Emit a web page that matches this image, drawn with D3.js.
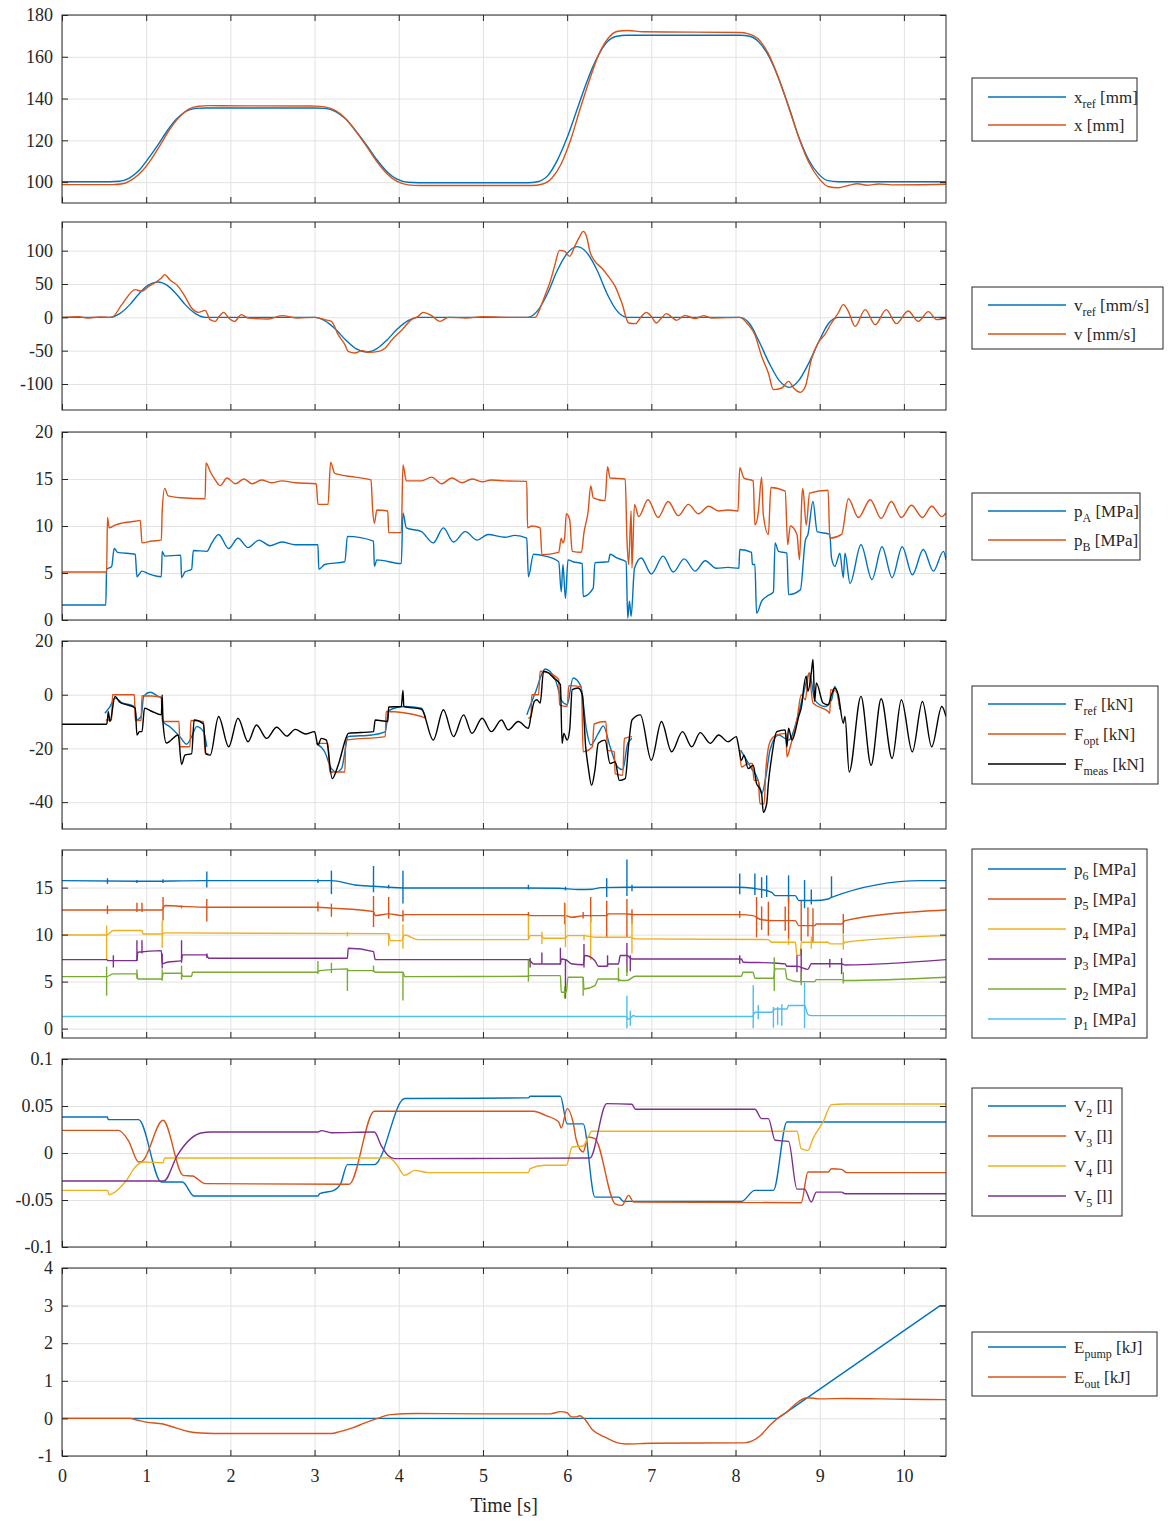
<!DOCTYPE html>
<html>
<head>
<meta charset="utf-8">
<script src="https://cdn.jsdelivr.net/npm/d3@7"></script>
<style>
body { margin: 0; background: #fff; }
text { font-family: "Liberation Serif", "Times New Roman", serif; fill: #262626; }
</style>
</head>
<body>
<div id="chart"></div>
<script>
// ---- data: [time s, value] pairs ----
var xTicks = [0, 1, 2, 3, 4, 5, 6, 7, 8, 9, 10];

var xRef = [[0,100.2],[0.57,100.2],[0.68,100.4],[0.80,101.9],[0.91,105.4],[1.02,111.0],[1.14,117.8],[1.25,124.6],[1.36,130.2],[1.47,133.8],[1.59,135.3],[1.70,135.5],[3.0,135.5],[3.12,135.3],[3.25,133.8],[3.37,130.2],[3.49,124.5],[3.62,117.6],[3.74,110.7],[3.86,105.0],[3.98,101.4],[4.11,99.9],[4.23,99.7],[5.53,99.7],[5.65,100.2],[5.77,103.1],[5.88,110.2],[6.0,121.3],[6.12,135.0],[6.24,148.7],[6.36,159.8],[6.47,166.9],[6.59,169.8],[6.71,170.3],[8.05,170.3],[8.17,169.8],[8.28,166.9],[8.40,159.9],[8.52,148.8],[8.64,135.2],[8.75,121.7],[8.87,110.6],[8.99,103.7],[9.10,100.7],[9.22,100.2],[10.5,100.2]];
var xMeas = [[0,98.8],[0.6,98.8],[0.72,99.2],[0.84,101.4],[0.95,105.2],[1.06,110.9],[1.17,117.9],[1.28,125.2],[1.39,131.0],[1.50,134.8],[1.62,136.3],[1.75,136.6],[2.2,136.5],[3.0,136.4],[3.12,136.0],[3.25,134.2],[3.37,130.3],[3.49,124.3],[3.62,117.0],[3.74,109.8],[3.86,104.0],[3.98,100.3],[4.11,98.7],[4.25,98.4],[5.58,98.4],[5.70,99.0],[5.82,102.0],[5.93,108.8],[6.04,120.0],[6.15,134.5],[6.27,149.5],[6.38,161.5],[6.49,169.0],[6.60,172.2],[6.72,172.6],[6.9,172.0],[7.5,171.8],[8.05,171.6],[8.15,171.0],[8.27,168.5],[8.39,161.5],[8.51,150.0],[8.63,136.0],[8.75,121.5],[8.87,109.5],[8.99,101.8],[9.10,97.9],[9.22,97.3],[9.34,98.4],[9.45,99.2],[9.56,98.5],[9.70,99.1],[9.85,98.7],[10.5,99.0]];

var vRef = [[0,0],[0.57,0],[0.68,5.1],[0.80,18.3],[0.91,34.7],[1.02,47.9],[1.14,53],[1.25,47.9],[1.36,34.7],[1.47,18.3],[1.59,5.1],[1.70,0],[3.0,0],[3.12,-5],[3.25,-18],[3.37,-34],[3.49,-47],[3.62,-52],[3.74,-47],[3.86,-34],[3.98,-18],[4.11,-5],[4.23,0],[5.53,0],[5.65,10.1],[5.77,36.6],[5.88,69.4],[6.0,95.9],[6.12,106],[6.24,95.9],[6.36,69.4],[6.47,36.6],[6.59,10.1],[6.71,0],[8.05,0],[8.17,-10],[8.28,-36.3],[8.40,-68.7],[8.52,-95],[8.64,-105],[8.75,-95],[8.87,-68.7],[8.99,-36.3],[9.10,-10],[9.22,0],[10.5,0]];
var vMeas = [[0,0],[0.2,1],[0.3,-1],[0.45,0.5],[0.59,0],[0.71,19],[0.87,41.5],[0.95,39],[1.03,46.5],[1.10,51.5],[1.18,59],[1.22,64],[1.28,56.5],[1.38,46.5],[1.46,31.5],[1.54,14],[1.62,7.5],[1.70,10.5],[1.76,-3.5],[1.82,-6],[1.86,0],[1.92,7.5],[1.98,-1],[2.05,-6],[2.13,4],[2.21,-1],[2.45,-2.5],[2.61,2.5],[2.8,-1],[3.0,0],[3.12,-3.5],[3.20,-6],[3.28,-26],[3.36,-41],[3.40,-51],[3.48,-53.5],[3.56,-50],[3.64,-52.5],[3.76,-51],[3.84,-46],[3.92,-33.5],[4.04,-18.5],[4.15,-3.5],[4.23,1.5],[4.29,7.5],[4.39,2.5],[4.49,-6],[4.59,0],[4.8,-1],[5.0,1],[5.3,0],[5.62,0],[5.68,14],[5.74,34],[5.80,54],[5.85,76.5],[5.91,100.5],[5.97,99],[6.03,91.5],[6.09,106.5],[6.15,121.5],[6.19,129],[6.23,121.5],[6.27,99],[6.33,84],[6.41,74],[6.49,61.5],[6.57,46.5],[6.65,21.5],[6.73,-8.5],[6.81,-9.5],[6.88,1],[6.94,7.5],[7.0,1.5],[7.06,-8.5],[7.12,-1],[7.18,5.5],[7.24,0.5],[7.30,-4.5],[7.40,3],[7.52,-2],[7.62,2.5],[7.72,-1],[8.05,0],[8.15,-11],[8.23,-26],[8.31,-58.5],[8.39,-83.5],[8.45,-108.5],[8.55,-106],[8.63,-96],[8.69,-106],[8.77,-112.5],[8.83,-103.5],[8.90,-63.5],[8.98,-38.5],[9.06,-26],[9.14,-8.5],[9.22,6.5],[9.28,19],[9.34,9],[9.42,-13.5],[9.54,11.5],[9.66,-11],[9.79,11.5],[9.91,-9.5],[10.05,9.5],[10.17,-6],[10.29,8.5],[10.39,-3.5],[10.5,-1]];

var pA = [[0,1.6],[0.52,1.6],[0.53,5.4],[0.59,5.7],[0.62,7.6],[0.66,7.2],[0.87,7.0],[0.89,4.6],[0.95,5.2],[1.03,4.9],[1.18,4.6],[1.19,7.3],[1.22,6.8],[1.41,6.9],[1.42,4.5],[1.46,5.1],[1.54,5.4],[1.56,7.4],[1.72,7.3],[1.78,8.2],[1.86,9.1],[1.98,7.6],[2.09,8.7],[2.21,7.7],[2.34,8.5],[2.47,7.9],[2.61,8.3],[2.77,8.0],[3.04,8.0],[3.05,5.4],[3.12,5.9],[3.36,6.2],[3.39,8.9],[3.70,8.4],[3.71,5.7],[3.74,6.4],[4.03,6.0],[4.05,11.4],[4.09,9.8],[4.27,9.4],[4.41,8.2],[4.53,9.8],[4.65,8.3],[4.79,9.4],[4.93,8.5],[5.06,9.1],[5.26,8.8],[5.38,9.0],[5.52,8.7],[5.54,4.6],[5.60,7.0],[5.74,6.8],[5.90,6.2],[5.93,3.0],[5.95,5.9],[5.98,2.3],[6.01,6.4],[6.07,6.2],[6.18,6.0],[6.19,2.5],[6.31,3.4],[6.33,6.1],[6.49,6.2],[6.51,7.0],[6.59,6.6],[6.70,6.2],[6.72,0.2],[6.74,2.0],[6.76,0.4],[6.80,5.5],[6.88,6.6],[7.0,4.9],[7.14,6.8],[7.26,5.1],[7.39,6.5],[7.52,5.2],[7.64,6.3],[7.77,5.5],[7.91,5.6],[8.04,5.5],[8.05,7.5],[8.19,7.2],[8.20,5.9],[8.23,5.9],[8.25,0.7],[8.31,2.0],[8.37,2.5],[8.45,3.0],[8.47,8.2],[8.51,7.3],[8.61,7.1],[8.63,2.7],[8.77,3.2],[8.83,8.5],[8.86,9.1],[8.92,12.6],[8.97,9.4],[9.12,9.1],[9.14,6.6],[9.18,5.7],[9.24,7.1],[9.28,4.5],[9.30,7.1],[9.36,3.9],[9.49,8.0],[9.62,4.3],[9.74,7.8],[9.86,4.5],[9.98,7.8],[10.10,4.8],[10.23,7.5],[10.35,5.2],[10.47,7.3],[10.5,6.4]];
var pB = [[0,5.1],[0.53,5.1],[0.54,10.9],[0.56,9.8],[0.63,10.1],[0.71,10.3],[0.87,10.5],[0.93,10.6],[0.95,8.2],[1.07,8.4],[1.18,8.5],[1.19,11.6],[1.22,14.0],[1.26,13.2],[1.42,13.0],[1.70,12.9],[1.71,16.7],[1.76,15.8],[1.82,14.9],[1.88,14.3],[1.96,15.1],[2.06,14.5],[2.16,15.0],[2.26,14.5],[2.37,14.9],[2.49,14.6],[2.61,14.8],[2.77,14.6],[3.02,14.5],[3.04,12.3],[3.16,12.3],[3.19,16.8],[3.24,15.6],[3.48,15.2],[3.67,14.9],[3.69,11.7],[3.71,10.3],[3.74,11.7],[3.87,11.6],[3.88,9.3],[4.03,9.3],[4.05,16.5],[4.09,14.8],[4.27,14.8],[4.39,15.2],[4.51,14.5],[4.63,15.1],[4.75,14.6],[4.87,15.0],[4.99,14.7],[5.10,14.9],[5.26,14.8],[5.52,14.75],[5.53,9.8],[5.58,10.0],[5.68,9.8],[5.70,6.95],[5.90,7.2],[5.93,8.7],[5.95,8.2],[5.97,8.7],[5.99,11.3],[6.03,10.7],[6.06,7.3],[6.17,7.2],[6.20,9.3],[6.25,11.6],[6.28,14.3],[6.31,13.0],[6.45,12.7],[6.48,16.3],[6.51,15.1],[6.69,15.0],[6.71,8.7],[6.73,5.9],[6.76,11.6],[6.77,5.5],[6.80,12.3],[6.85,11.0],[6.96,12.8],[7.08,10.9],[7.20,12.6],[7.32,11.1],[7.44,12.3],[7.56,11.3],[7.68,12.1],[7.80,11.6],[7.91,11.7],[8.03,11.6],[8.05,16.2],[8.10,15.1],[8.21,14.8],[8.23,10.1],[8.27,11.4],[8.31,15.2],[8.33,11.2],[8.39,9.1],[8.42,14.1],[8.59,13.7],[8.62,8.0],[8.65,10.0],[8.73,9.1],[8.76,6.4],[8.79,13.3],[8.80,14.0],[8.84,10.1],[8.88,13.5],[9.10,13.8],[9.12,8.7],[9.26,9.1],[9.34,12.9],[9.46,10.9],[9.60,12.8],[9.73,10.8],[9.85,12.6],[9.97,10.9],[10.09,12.2],[10.22,10.9],[10.33,12.1],[10.45,11.0],[10.5,11.4]];

var fRef = [[0.51,-6.9],[0.57,-4.4],[0.63,-1.25],[0.71,-2.9],[0.86,-4.4],[0.89,-9.4],[0.94,-8.1],[0.97,-0.6],[1.05,0.9],[1.13,-0.4],[1.18,-1.25],[1.20,-10],[1.28,-11.9],[1.40,-15.6],[1.48,-18.4],[1.54,-15.6],[1.60,-11.9],[1.68,-13.75],[1.72,-19.4],[1.73,null],[3.02,-18.1],[3.12,-21.25],[3.20,-27.5],[3.26,-28.75],[3.32,-27.5],[3.40,-15.6],[3.68,-15],[3.84,-13.75],[3.88,-5.9],[4.07,-4.4],[4.27,-5],[4.32,-8.75],[4.33,null],[5.52,-7.5],[5.62,0.6],[5.74,9.6],[5.86,5.6],[5.94,-2.5],[6.0,-3.75],[6.07,6.25],[6.16,3.4],[6.23,-13.1],[6.28,-18.75],[6.37,-14.4],[6.43,-11.6],[6.51,-19.4],[6.60,-26.9],[6.66,-27.9],[6.72,-18.1],[6.77,-16.25],[6.78,null],[8.06,-20.6],[8.19,-27.5],[8.27,-31.9],[8.31,-36.9],[8.36,-30.6],[8.41,-20.6],[8.51,-15],[8.63,-16.9],[8.75,-6.9],[8.80,-0.6],[8.88,8.1],[8.94,-1.9],[9.06,-4.4],[9.14,-1.9],[9.18,3.1],[9.24,-5.6]];
var fOpt = [[0.52,-9.4],[0.59,-9.4],[0.60,0],[0.86,0],[0.87,-9.6],[0.94,-9.6],[0.95,-0.4],[1.18,-0.9],[1.19,-10],[1.39,-10],[1.40,-19.4],[1.52,-19.4],[1.53,-9.6],[1.68,-10],[1.70,-21.9],[1.74,-22],[1.75,null],[3.02,-18.1],[3.16,-18.1],[3.18,-28.75],[3.36,-28.75],[3.37,-16.9],[3.84,-15.6],[3.85,-6.25],[4.27,-8.1],[4.31,-8.75],[4.32,null],[5.54,-8.75],[5.57,-8.1],[5.58,0],[5.66,0],[5.68,8.75],[5.78,8.1],[5.90,5.6],[5.91,-3.75],[6.0,-4.4],[6.02,3.4],[6.17,2.9],[6.19,-21.25],[6.30,-19.4],[6.32,-10.9],[6.46,-10],[6.48,-20.6],[6.56,-21.25],[6.57,-29.4],[6.66,-30],[6.68,-16.25],[6.77,-15.6],[6.78,null],[8.05,-20.6],[8.07,-26.9],[8.15,-25.6],[8.20,-25.6],[8.22,-31.9],[8.27,-31.9],[8.29,-40.6],[8.34,-40.6],[8.36,-28.1],[8.41,-17.5],[8.49,-15],[8.60,-14.4],[8.61,-23.1],[8.65,-19.4],[8.73,-9.4],[8.78,0],[8.83,-1.9],[8.87,8.1],[8.92,-3.1],[9.10,-6.25],[9.12,-6.9],[9.13,1.9],[9.20,1.2],[9.24,-5]];
var fMeas = [[0,-11],[0.53,-11],[0.54,-9.4],[0.55,-6.3],[0.57,-10],[0.63,-0.6],[0.69,-2.9],[0.77,-3.75],[0.87,-5],[0.89,-15],[0.92,-13.75],[0.95,-13.75],[0.98,-5],[1.07,-6.25],[1.18,-7.5],[1.19,0],[1.20,-10.6],[1.24,-18],[1.38,-15],[1.42,-26],[1.46,-22.5],[1.54,-21.9],[1.57,-9.4],[1.68,-10.9],[1.71,-22],[1.76,-22.5],[1.86,-8.1],[1.98,-19.4],[2.09,-8.75],[2.21,-17.5],[2.31,-11.25],[2.43,-16.25],[2.55,-12.1],[2.67,-15.4],[2.77,-12.9],[2.89,-14.6],[3.0,-13.75],[3.04,-18.75],[3.08,-16.25],[3.14,-16.9],[3.21,-31.25],[3.28,-26.25],[3.38,-15.6],[3.40,-14.4],[3.70,-13.75],[3.72,-9.4],[3.87,-10],[3.88,-4.6],[4.03,-4.4],[4.05,1.6],[4.06,-4.4],[4.27,-5.4],[4.41,-16.9],[4.53,-5.6],[4.65,-15.6],[4.77,-7.5],[4.87,-14.4],[4.99,-8.75],[5.10,-13.75],[5.22,-9.4],[5.30,-13.1],[5.42,-10],[5.54,-12.5],[5.57,-8.1],[5.61,-2.5],[5.64,-1.9],[5.68,-3.1],[5.72,8.75],[5.78,8.1],[5.84,6.25],[5.92,3.75],[5.94,-18.1],[5.96,-14.4],[6.0,-16.9],[6.03,-13.1],[6.06,1.9],[6.13,2.5],[6.18,0],[6.22,-19.4],[6.25,-26.9],[6.29,-33.75],[6.33,-28.1],[6.37,-18.1],[6.45,-16.9],[6.51,-25.6],[6.57,-25],[6.62,-31.9],[6.69,-31.25],[6.73,-18.75],[6.77,-9.4],[6.87,-7.5],[7.0,-24.4],[7.12,-10],[7.24,-21.25],[7.37,-13.75],[7.48,-19.4],[7.58,-14.1],[7.70,-18.1],[7.80,-15],[7.91,-17.5],[8.01,-15.6],[8.03,-18.1],[8.07,-24.4],[8.10,-22.5],[8.15,-27.5],[8.21,-26.25],[8.25,-33.1],[8.29,-35],[8.31,-36.9],[8.33,-43.75],[8.37,-40.6],[8.39,-33.1],[8.43,-23.1],[8.49,-13.75],[8.59,-13.1],[8.61,-19.4],[8.63,-12.5],[8.67,-16.9],[8.75,-8.1],[8.79,-3.1],[8.80,0],[8.84,6.9],[8.86,1.25],[8.90,8.1],[8.92,13.1],[8.94,-2.5],[8.96,4.4],[9.04,-3.1],[9.10,-3.75],[9.14,0],[9.18,2.5],[9.22,0],[9.28,-10.6],[9.30,-8.1],[9.35,-28.75],[9.49,-0.6],[9.61,-26.25],[9.73,-1.5],[9.86,-23.75],[9.97,-1.9],[10.10,-21.25],[10.22,-2.5],[10.33,-19.4],[10.45,-4.4],[10.5,-8.1]];

var p6 = [[0,15.74],[0.9,15.67],[1.7,15.74],[3.2,15.74],[3.48,15.28],[3.70,15.14],[3.88,15.04],[4.05,14.96],[5.26,14.96],[5.90,14.93],[6.13,14.79],[6.3,14.82],[6.4,15.0],[6.7,15.04],[8.03,15.04],[8.21,14.93],[8.43,14.5],[8.47,14.15],[8.71,14.15],[8.75,13.62],[8.94,13.62],[9.10,13.79],[9.14,13.97],[10.21,15.74],[10.5,15.74]];
var p5 = [[0,12.62],[1.19,12.62],[1.22,13.09],[1.43,13.0],[1.74,12.91],[3.04,12.91],[3.2,12.82],[3.70,12.45],[3.72,12.02],[3.88,12.2],[4.05,12.02],[4.07,12.13],[5.54,12.13],[5.56,12.02],[5.98,12.02],[6.05,11.84],[6.21,12.02],[6.47,12.02],[6.49,12.20],[6.69,12.20],[6.79,12.13],[8.05,12.13],[8.21,12.02],[8.30,11.6],[8.47,11.49],[8.71,11.49],[8.75,10.96],[8.94,10.96],[8.96,11.13],[9.26,11.13],[9.30,11.49],[10.5,12.62]];
var p4 = [[0,9.96],[0.53,9.96],[0.61,10.43],[0.95,10.43],[0.96,10.07],[1.19,10.07],[1.22,10.18],[3.88,10.1],[3.90,9.36],[4.03,9.36],[4.07,9.96],[4.23,9.47],[5.54,9.47],[5.56,9.89],[5.70,9.89],[5.72,9.61],[5.97,9.61],[6.01,9.89],[6.19,9.89],[6.33,9.72],[6.75,9.72],[6.81,9.55],[8.39,9.47],[8.43,9.18],[8.71,9.18],[8.73,7.8],[8.77,7.8],[8.78,9.18],[9.10,9.18],[9.12,9.01],[9.28,9.01],[9.30,9.18],[10.5,9.89]];
var p3 = [[0,7.34],[0.53,7.34],[0.55,7.23],[0.89,7.23],[0.90,8.12],[1.18,8.30],[1.19,6.9],[1.25,7.06],[1.42,7.23],[1.43,7.84],[1.72,7.84],[1.74,7.48],[3.39,7.48],[3.40,8.55],[3.70,8.19],[3.72,7.34],[5.54,7.34],[5.60,6.88],[5.92,6.88],[5.93,7.41],[5.99,7.3],[6.05,6.9],[6.19,6.8],[6.21,7.77],[6.33,7.23],[6.37,6.63],[6.47,6.63],[6.49,6.88],[6.61,6.88],[6.63,7.77],[6.71,7.77],[6.77,7.41],[8.07,7.41],[8.09,7.06],[8.43,6.99],[8.59,6.88],[8.61,6.63],[8.73,6.63],[8.86,6.3],[8.90,6.9],[9.26,6.9],[9.30,6.77],[10.5,7.34]];
var p2 = [[0,5.53],[0.53,5.53],[0.61,5.82],[0.89,5.82],[0.90,5.28],[1.19,5.28],[1.20,5.89],[1.42,5.89],[1.43,5.57],[1.54,5.57],[1.55,5.99],[3.04,5.99],[3.06,6.17],[3.39,6.35],[3.40,6.17],[3.70,6.17],[3.72,5.99],[4.05,5.99],[4.07,5.53],[5.54,5.57],[5.56,5.64],[5.92,5.64],[5.93,3.87],[5.99,3.87],[6.01,5.46],[6.19,5.46],[6.20,4.22],[6.33,4.57],[6.37,5.28],[6.61,5.28],[6.63,5.11],[6.71,5.11],[6.81,5.57],[8.07,5.57],[8.09,5.99],[8.21,5.99],[8.23,5.35],[8.45,5.35],[8.47,6.35],[8.59,6.35],[8.61,5.28],[8.75,5.0],[8.94,5.0],[8.96,5.21],[9.26,5.21],[9.30,5.11],[10.5,5.46]];
var p1 = [[0,1.28],[6.70,1.28],[6.73,1.0],[6.79,1.4],[6.81,1.28],[8.20,1.28],[8.23,1.74],[8.43,1.74],[8.47,2.09],[8.61,2.09],[8.63,2.45],[8.82,2.45],[8.86,1.5],[8.90,1.38],[10.5,1.38]];

// spikes in the pressure traces: [time, low, high]
var p6Spikes = [[0.54,15.4,16.0],[0.89,15.5,15.8],[1.20,15.5,15.9],[1.72,15.0,16.7],[3.04,15.5,15.9],[3.20,14.3,16.8],[3.70,14.5,17.3],[3.88,14.9,15.3],[4.05,13.3,16.8],[5.54,14.8,15.3],[5.98,14.7,15.1],[6.47,14.0,16.0],[6.71,14.1,18.0],[6.77,14.6,15.3],[8.05,14.3,16.5],[8.23,14.2,16.5],[8.31,13.9,16.1],[8.37,14.0,16.3],[8.63,13.5,16.3],[8.82,12.8,15.8],[8.90,13.2,14.8],[9.14,14.0,16.2]];
var p5Spikes = [[0.54,12.2,13.1],[0.89,12.4,13.4],[0.95,12.4,13.4],[1.20,11.5,14.0],[1.42,12.8,13.1],[1.72,11.4,13.8],[3.04,12.45,13.5],[3.20,11.9,13.3],[3.70,10.8,14.1],[3.88,11.7,14.0],[4.05,11.4,12.6],[5.54,12.0,12.4],[5.97,11.1,13.4],[6.19,11.7,12.4],[6.28,11.3,14.0],[6.47,9.7,13.6],[6.71,9.7,13.8],[6.77,11.1,12.7],[8.05,11.8,12.5],[8.25,9.7,14.0],[8.31,10.5,13.0],[8.39,9.9,13.5],[8.59,10.4,13.0],[8.63,9.5,14.0],[8.78,9.3,13.6],[8.86,9.8,12.9],[8.92,9.2,12.8],[9.28,10.1,12.2]];
var p4Spikes = [[0.53,7.4,10.96],[1.19,8.6,11.5],[3.39,9.8,10.3],[3.88,8.8,10.1],[4.05,8.5,11.1],[5.54,9.5,12.0],[5.70,9.0,10.3],[5.98,8.65,13.3],[6.20,9.4,10.0],[6.28,7.3,11.8],[6.77,8.0,11.6],[8.63,8.9,9.6],[8.90,8.5,9.8],[9.28,8.4,10.0]];
var p3Spikes = [[0.61,6.5,7.8],[0.89,7.2,9.4],[0.95,8.0,9.4],[1.19,6.4,8.0],[1.42,7.0,9.4],[1.72,7.5,8.0],[5.56,6.5,7.5],[5.70,6.9,8.1],[5.92,6.8,8.6],[5.98,3.2,7.4],[6.20,6.5,9.0],[6.48,6.6,7.8],[6.71,6.0,9.1],[6.75,6.1,7.8],[8.05,6.9,7.8],[8.73,6.0,7.8],[8.78,4.9,8.5],[9.12,6.5,7.4],[9.26,5.8,7.5]];
var p2Spikes = [[0.53,3.5,6.6],[0.89,5.3,6.3],[1.19,5.1,6.3],[1.42,5.2,6.7],[3.04,5.8,7.2],[3.20,5.9,7.0],[3.39,4.0,6.3],[3.70,6.0,6.7],[4.05,3.0,6.0],[5.54,5.0,7.3],[5.97,3.2,4.5],[6.19,3.5,5.5],[6.61,5.0,6.5],[6.71,5.6,6.7],[8.46,4.0,7.6],[8.78,4.6,6.0],[9.28,4.8,6.0]];
var p1Spikes = [[6.71,0.05,3.5],[6.75,0.3,1.9],[8.21,0.05,4.6],[8.27,1.0,2.5],[8.45,0.1,2.3],[8.50,0.4,2.3],[8.55,0.3,2.6],[8.82,0.05,4.9]];

var v2 = [[0,0.0383],[0.54,0.0383],[0.55,0.0355],[0.91,0.0355],[1.18,-0.0309],[1.43,-0.0309],[1.57,-0.0458],[3.04,-0.0458],[3.06,-0.0433],[3.23,-0.0398],[3.31,-0.0327],[3.39,-0.0124],[3.71,-0.0124],[4.07,0.0579],[5.54,0.0586],[5.56,0.0604],[5.92,0.0604],[6.0,0.031],[6.19,0.031],[6.33,-0.0469],[6.61,-0.0469],[6.67,-0.0515],[8.07,-0.0515],[8.23,-0.0398],[8.45,-0.0398],[8.61,0.0330],[10.5,0.0330]];
var v3 = [[0,0.0241],[0.67,0.0241],[0.79,0.013],[0.91,-0.0096],[0.95,-0.0089],[1.2,0.0348],[1.44,-0.0238],[1.55,-0.0245],[1.70,-0.0326],[3.41,-0.0333],[3.71,0.0444],[5.60,0.0444],[5.74,0.0401],[5.90,0.033],[5.93,0.0266],[6.0,0.0472],[6.07,0.033],[6.11,0.0135],[6.19,0.0011],[6.25,0.017],[6.33,0.0153],[6.57,-0.054],[6.65,-0.0557],[6.73,-0.0451],[6.79,-0.0522],[8.78,-0.0529],[8.86,-0.0202],[9.10,-0.0202],[9.14,-0.0167],[9.26,-0.0174],[9.32,-0.0209],[10.5,-0.0209]];
var v4 = [[0,-0.0398],[0.54,-0.0398],[0.56,-0.0444],[0.63,-0.0415],[0.75,-0.0309],[0.89,-0.0131],[0.97,-0.0096],[1.2,-0.0103],[1.22,-0.0053],[3.89,-0.0053],[3.97,-0.0117],[4.07,-0.0238],[4.19,-0.0185],[4.35,-0.0209],[5.54,-0.0209],[5.56,-0.0167],[5.74,-0.0131],[5.99,-0.0131],[6.06,0.0064],[6.19,0.0075],[6.25,0.017],[6.29,0.0231],[8.73,0.0231],[8.78,0.0046],[8.86,0.0028],[8.92,0.0153],[9.04,0.0330],[9.14,0.0515],[9.30,0.0522],[10.5,0.0522]];
var v5 = [[0,-0.0298],[1.21,-0.0298],[1.37,-0.0025],[1.53,0.0153],[1.65,0.0213],[1.77,0.0223],[3.04,0.0223],[3.08,0.0238],[3.2,0.0216],[3.71,0.0223],[3.79,0.0082],[3.87,-0.0025],[3.95,-0.006],[6.27,-0.0053],[6.47,0.0525],[6.77,0.0518],[6.81,0.0465],[8.23,0.0465],[8.31,0.0366],[8.39,0.0366],[8.47,0.0135],[8.63,0.0124],[8.73,-0.0384],[8.82,-0.0384],[8.90,-0.0522],[8.96,-0.0416],[9.26,-0.0416],[9.30,-0.0433],[10.5,-0.0433]];

var ePump = [[0,0],[8.5,0],[10.43,3.0],[10.5,3.0]];
var eOut = [[0,0],[0.8,0],[0.9,-0.05],[1.0,-0.1],[1.2,-0.15],[1.35,-0.25],[1.5,-0.35],[1.65,-0.39],[1.8,-0.4],[2.2,-0.4],[3.2,-0.4],[3.3,-0.35],[3.45,-0.25],[3.6,-0.12],[3.75,0.0],[3.9,0.1],[4.2,0.13],[5.0,0.12],[5.8,0.12],[5.92,0.18],[6.0,0.15],[6.05,0.04],[6.1,0.04],[6.15,0.07],[6.2,0.0],[6.3,-0.3],[6.45,-0.5],[6.6,-0.65],[6.7,-0.68],[7.0,-0.66],[8.1,-0.65],[8.2,-0.6],[8.3,-0.45],[8.4,-0.2],[8.5,0.0],[8.6,0.15],[8.75,0.45],[8.85,0.55],[9.0,0.52],[9.3,0.53],[10.0,0.51],[10.5,0.5]];

// ---- layout ----
var svgWidth = 1174;
var svgHeight = 1521;
var plotLeft = 62, plotRight = 946, plotHeight = 188;

var BLUE = "#0072BD", ORANGE = "#D95319", YELLOW = "#EDB120",
    PURPLE = "#7E2F8E", GREEN = "#77AC30", CYAN = "#4DBEEE", BLACK = "#000000";

var panels = [
  {top: 15, yDomain: [90, 180], yTicks: [100, 120, 140, 160, 180],
   series: [{data: xRef, color: BLUE, label: ["x", "ref", " [mm]"]},
            {data: xMeas, color: ORANGE, label: ["x", "", " [mm]"]}],
   legend: {y: 78, w: 165, h: 63, first: 19, step: 28}},
  {top: 222, yDomain: [-139, 143], yTicks: [-100, -50, 0, 50, 100],
   series: [{data: vRef, color: BLUE, label: ["v", "ref", " [mm/s]"]},
            {data: vMeas, color: ORANGE, label: ["v", "", " [mm/s]"]}],
   legend: {y: 287, w: 191, h: 62, first: 18, step: 29}},
  {top: 432, yDomain: [0, 20], yTicks: [0, 5, 10, 15, 20],
   series: [{data: pA, color: BLUE, label: ["p", "A", " [MPa]"]},
            {data: pB, color: ORANGE, label: ["p", "B", " [MPa]"]}],
   legend: {y: 493, w: 168, h: 67, first: 18, step: 29}},
  {top: 641, yDomain: [-50, 20], yTicks: [-40, -20, 0, 20],
   series: [{data: fRef, color: BLUE, label: ["F", "ref", " [kN]"]},
            {data: fOpt, color: ORANGE, label: ["F", "opt", " [kN]"]},
            {data: fMeas, color: BLACK, label: ["F", "meas", " [kN]"]}],
   legend: {y: 686, w: 186, h: 98, first: 18, step: 30}},
  {top: 850, yDomain: [-1, 19], yTicks: [0, 5, 10, 15],
   series: [{data: p6, spikes: p6Spikes, color: BLUE, label: ["p", "6", " [MPa]"]},
            {data: p5, spikes: p5Spikes, color: ORANGE, label: ["p", "5", " [MPa]"]},
            {data: p4, spikes: p4Spikes, color: YELLOW, label: ["p", "4", " [MPa]"]},
            {data: p3, spikes: p3Spikes, color: PURPLE, label: ["p", "3", " [MPa]"]},
            {data: p2, spikes: p2Spikes, color: GREEN, label: ["p", "2", " [MPa]"]},
            {data: p1, spikes: p1Spikes, color: CYAN, label: ["p", "1", " [MPa]"]}],
   legend: {y: 849, w: 175, h: 189, first: 20, step: 30}},
  {top: 1059, yDomain: [-0.1, 0.1], yTicks: [-0.1, -0.05, 0, 0.05, 0.1],
   series: [{data: v2, color: BLUE, label: ["V", "2", " [l]"]},
            {data: v3, color: ORANGE, label: ["V", "3", " [l]"]},
            {data: v4, color: YELLOW, label: ["V", "4", " [l]"]},
            {data: v5, color: PURPLE, label: ["V", "5", " [l]"]}],
   legend: {y: 1088, w: 150, h: 128, first: 18, step: 30}},
  {top: 1268, yDomain: [-1, 4], yTicks: [-1, 0, 1, 2, 3, 4],
   series: [{data: ePump, color: BLUE, linear: true, label: ["E", "pump", " [kJ]"]},
            {data: eOut, color: ORANGE, label: ["E", "out", " [kJ]"]}],
   legend: {y: 1332, w: 185, h: 64, first: 15, step: 30}}
];

var svg = d3.select("#chart")
    .append("svg")
    .attr("width", svgWidth)
    .attr("height", svgHeight);

var xScale = d3.scaleLinear().domain([0, 10.5]).range([plotLeft, plotRight]);

function styleAxis(sel) {
  sel.select(".domain").remove();
  sel.attr("font-family", "Liberation Serif, Times New Roman, serif")
     .attr("font-size", 18);
  sel.selectAll("line").attr("stroke", "#262626");
  sel.selectAll("text").attr("fill", "#262626");
}

panels.forEach(function(p, i) {
  var top = p.top, bottom = p.top + plotHeight;
  var yScale = d3.scaleLinear().domain(p.yDomain).range([bottom, top]);
  var g = svg.append("g");
  var isLast = i === panels.length - 1;

  // grid
  g.append("g")
    .attr("transform", `translate(${plotLeft},0)`)
    .call(d3.axisLeft(yScale).tickValues(p.yTicks).tickSize(-(plotRight - plotLeft)).tickFormat(""))
    .call(function(a) { a.select(".domain").remove(); })
    .selectAll("line").attr("stroke", "#e2e2e2");
  g.append("g")
    .attr("transform", `translate(0,${bottom})`)
    .call(d3.axisBottom(xScale).tickValues(xTicks).tickSize(-plotHeight).tickFormat(""))
    .call(function(a) { a.select(".domain").remove(); })
    .selectAll("line").attr("stroke", "#e2e2e2");

  // clip
  g.append("clipPath").attr("id", "clip" + i)
    .append("rect")
    .attr("x", plotLeft).attr("y", top)
    .attr("width", plotRight - plotLeft).attr("height", plotHeight);
  var plot = g.append("g").attr("clip-path", `url(#clip${i})`);

  p.series.forEach(function(s) {
    var line = d3.line()
      .defined(function(d) { return d[1] !== null; })
      .x(function(d) { return xScale(d[0]); })
      .y(function(d) { return yScale(d[1]); })
      .curve(s.linear ? d3.curveLinear : d3.curveMonotoneX);
    plot.append("path")
      .datum(s.data)
      .attr("fill", "none")
      .attr("stroke", s.color)
      .attr("stroke-width", 1.4)
      .attr("stroke-linejoin", "round")
      .attr("d", line);
    if (s.spikes) {
      plot.selectAll(null)
        .data(s.spikes)
        .enter()
        .append("line")
        .attr("x1", function(d) { return xScale(d[0]); })
        .attr("x2", function(d) { return xScale(d[0]); })
        .attr("y1", function(d) { return yScale(d[1]); })
        .attr("y2", function(d) { return yScale(d[2]); })
        .attr("stroke", s.color)
        .attr("stroke-width", 1.4);
    }
  });

  // frame
  g.append("rect")
    .attr("x", plotLeft).attr("y", top)
    .attr("width", plotRight - plotLeft).attr("height", plotHeight)
    .attr("fill", "none").attr("stroke", "#262626").attr("stroke-width", 1);

  // ticks and labels
  g.append("g")
    .attr("transform", `translate(${plotLeft},0)`)
    .call(d3.axisLeft(yScale).tickValues(p.yTicks).tickSize(-6).tickPadding(9)
      .tickFormat(function(d) { return String(d); }))
    .call(styleAxis);
  g.append("g")
    .attr("transform", `translate(${plotRight},0)`)
    .call(d3.axisRight(yScale).tickValues(p.yTicks).tickSize(-6).tickFormat(""))
    .call(styleAxis);
  g.append("g")
    .attr("transform", `translate(0,${top})`)
    .call(d3.axisTop(xScale).tickValues(xTicks).tickSize(-6).tickFormat(""))
    .call(styleAxis);
  g.append("g")
    .attr("transform", `translate(0,${bottom})`)
    .call(d3.axisBottom(xScale).tickValues(xTicks).tickSize(-6).tickPadding(13)
      .tickFormat(isLast ? function(d) { return String(d); } : ""))
    .call(styleAxis);

  // legend
  var lg = svg.append("g").attr("transform", `translate(972,${p.legend.y})`);
  lg.append("rect")
    .attr("width", p.legend.w).attr("height", p.legend.h)
    .attr("fill", "#fff").attr("stroke", "#262626").attr("stroke-width", 1);
  p.series.forEach(function(s, k) {
    var ly = p.legend.first + k * p.legend.step;
    lg.append("line")
      .attr("x1", 16).attr("x2", 94).attr("y1", ly).attr("y2", ly)
      .attr("stroke", s.color).attr("stroke-width", 1.4);
    var t = lg.append("text")
      .attr("x", 102).attr("y", ly).attr("dy", "0.35em")
      .attr("font-size", 17);
    t.append("tspan").text(s.label[0]);
    if (s.label[1]) {
      t.append("tspan").attr("font-size", 12).attr("dy", 5).text(s.label[1]);
      t.append("tspan").attr("dy", -5).text(s.label[2]);
    } else {
      t.append("tspan").text(s.label[2]);
    }
  });
});

svg.append("text")
  .attr("x", (plotLeft + plotRight) / 2)
  .attr("y", 1512)
  .attr("text-anchor", "middle")
  .attr("font-size", 20)
  .text("Time [s]");
</script>
</body>
</html>
